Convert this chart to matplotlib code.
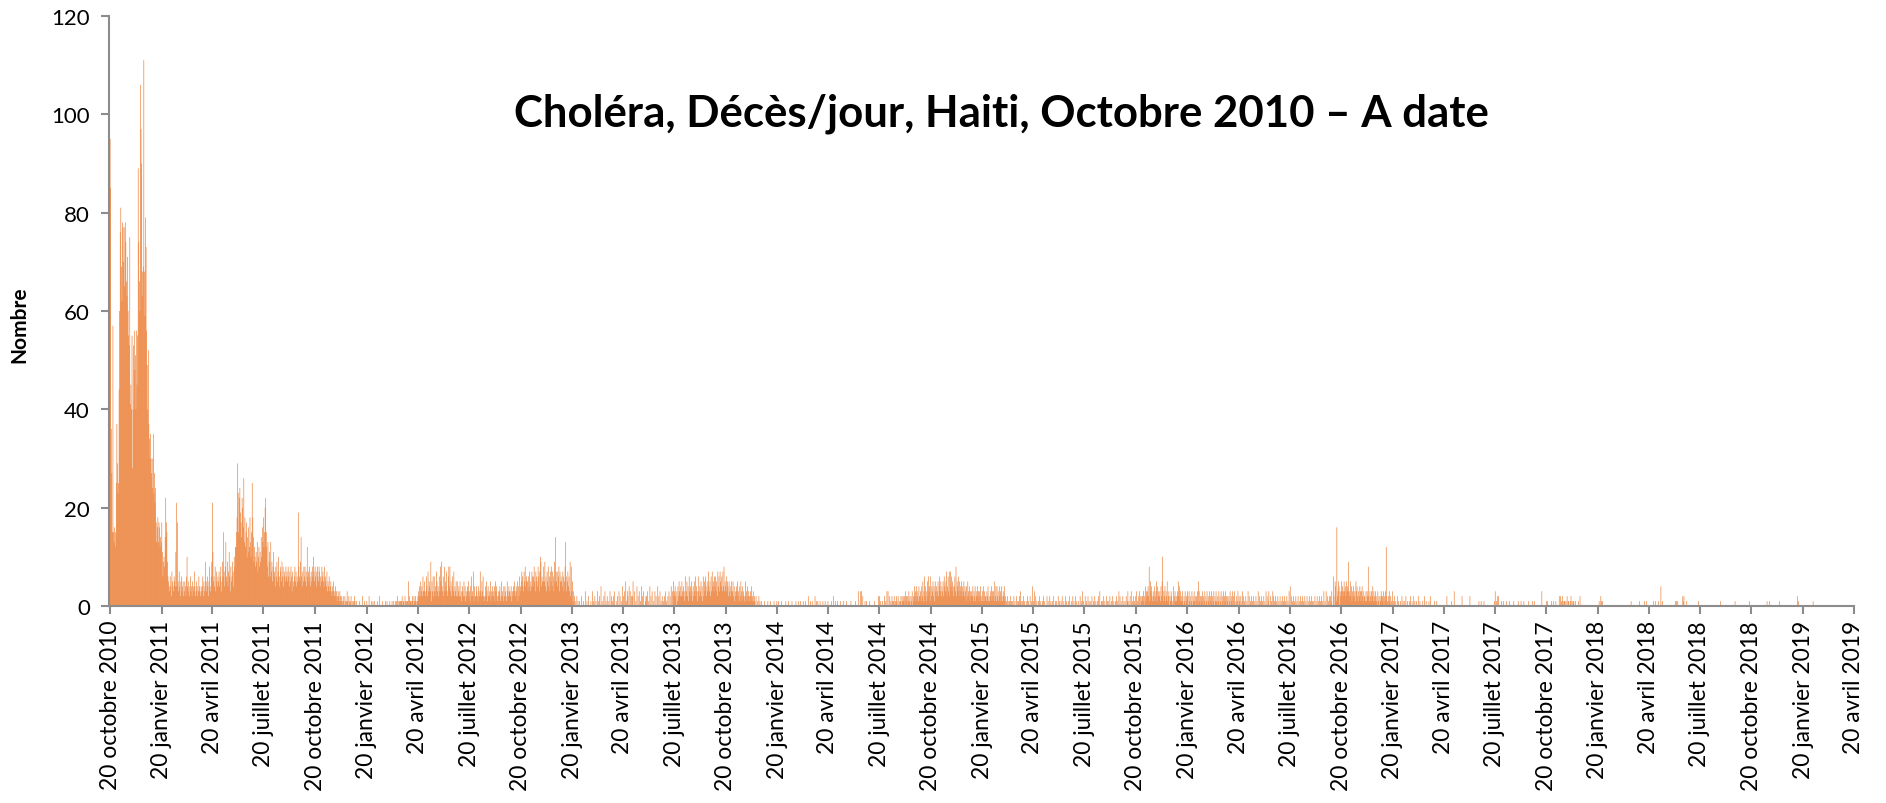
import calendar
import datetime as dt
import matplotlib
matplotlib.use("Agg")
import matplotlib.pyplot as plt
from matplotlib.dates import date2num

# ---------------- data: daily deaths ----------------
# 2010 / 2011 : lists per month ; later years : one base-36 digit per day, one string per month
deaths_2010 = [  # from 20 October
    [95, 85, 36, 27, 15, 57, 15, 13, 16, 12, 15, 25],
    [37, 29, 23, 25, 44, 60, 76, 81, 69, 62, 78, 77, 70, 77, 65, 78, 74, 66, 63, 71,
     60, 55, 53, 75, 41, 45, 40, 55, 28, 40],
    [53, 56, 48, 51, 40, 56, 45, 55, 89, 74, 66, 60, 106, 97, 90, 63, 68, 69, 111, 68,
     59, 79, 73, 56, 49, 40, 52, 37, 34, 30, 35],
]
deaths_2011 = [
    [30, 27, 24, 30, 35, 23, 27, 21, 24, 17, 13, 16, 18, 13, 17, 16, 12, 14, 13, 17,
     11, 6, 9, 10, 8, 14, 22, 17, 15, 9, 6],
    [5, 4, 3, 6, 4, 2, 7, 5, 4, 3, 6, 5, 4, 11, 21, 4, 17, 5, 3, 7, 4, 2, 5, 6, 3, 4, 5, 2],
    [3, 5, 4, 2, 6, 10, 4, 3, 5, 2, 4, 6, 3, 4, 2, 5, 4, 3, 7, 4, 2, 3, 5, 4, 2, 3, 6, 4, 3, 2, 4],
    [3, 4, 6, 2, 5, 3, 4, 9, 5, 3, 6, 4, 2, 5, 8, 4, 3, 6, 9, 21, 11, 5, 6, 4, 8, 3, 7, 5, 4, 6],
    [5, 7, 4, 6, 8, 3, 5, 9, 6, 15, 7, 4, 8, 13, 6, 5, 9, 4, 7, 11, 6, 3, 8, 5, 6, 9, 7, 4, 10, 8, 12],
    [12, 15, 18, 29, 23, 15, 22, 24, 19, 17, 14, 22, 20, 16, 26, 13, 18, 12, 15, 17,
     10, 14, 16, 11, 12, 18, 13, 10, 15, 25],
    [18, 14, 9, 12, 10, 8, 11, 9, 13, 7, 10, 12, 8, 11, 9, 14, 10, 16, 13, 18, 12, 15,
     20, 22, 15, 12, 8, 13, 6, 9, 11],
    [6, 13, 7, 9, 5, 8, 11, 6, 7, 4, 8, 6, 9, 5, 7, 10, 6, 4, 8, 7, 5, 9, 6, 8, 4, 7, 6, 5, 8, 6, 7],
    [5, 8, 6, 4, 7, 5, 8, 6, 3, 7, 5, 4, 6, 8, 5, 7, 4, 6, 5, 19, 8, 6, 5, 9, 14, 6, 4, 7, 5, 8],
    [6, 8, 5, 7, 4, 12, 6, 7, 5, 8, 6, 4, 7, 5, 8, 6, 10, 7, 5, 8, 6, 4, 7, 8, 6, 5, 8, 7, 4, 6, 5],
    [8, 6, 7, 5, 4, 8, 6, 5, 4, 7, 3, 5, 4, 6, 3, 4, 5, 3, 2, 4, 3, 5, 2, 3, 4, 2, 3, 1, 2, 3],
    [2, 1, 3, 2, 1, 2, 0, 1, 2, 1, 0, 2, 1, 0, 1, 3, 1, 0, 2, 1, 0, 1, 2, 0, 1, 0, 1, 0, 2, 1, 0],
]
deaths_2012 = [
    "0100001000" "0200010001" "0002000100" "1",
    "0010000100" "0200001000" "010010000",
    "1000100100" "1010201101" "1120110210" "1",
    "1150211012" "1021120112" "3242534263",
    "3523642735" "4391536263" "4275342638" "5",
    "9436283547" "3268483524" "6372435252",
    "3425231432" "5241324352" "3146232714" "2",
    "2432143273" "2536212425" "3142325132" "4",
    "3241534213" "2341252314" "2432153243",
    "3241324353" "2435142634" "5764375846" "5",
    "5364735476" "4685376548" "637a946558",
    "5946375846" "3758476395" "e757468375" "6",
]
deaths_2013 = [
    "5476358d63" "5746392835" "1302100201" "0",
    "0100200010" "0300100200" "01003010",
    "2010030120" "0401002030" "1020010300" "2",
    "1020300102" "0030200140" "2030510320",
    "4030202500" "3010402030" "1040203001" "2",
    "2030104020" "3001030200" "4020301020",
    "1020301020" "3020403052" "3420314253" "2",
    "4253243162" "3524163425" "3142536243" "1",
    "3624352416" "2536425374" "3526374536",
    "4635274637" "5463748354" "6354253425" "3",
    "3524132435" "2314253142" "3125231423",
    "2132412312" "1020010201" "0010000100" "0",
]
deaths_2014 = [
    "0010000100" "0001000010" "0100001000" "0",
    "0001000010" "0000100000" "01000010",
    "0100001000" "1000020001" "0010000200" "1",
    "0100010000" "1000100001" "0000010002",
    "0010001000" "0100000100" "0010000000" "1",
    "0000000100" "0030003030" "2000100100",
    "0010000000" "0100000020" "2010010002" "0",
    "1030300201" "0210120102" "1020101202" "1",
    "2120312021" "3120213021" "4231423142",
    "2314251362" "4135263416" "2435241534" "2",
    "3524635243" "5264357246" "3727463542",
    "4638254635" "2435243524" "3142532413" "2",
]
deaths_2015 = [
    "3241324132" "4231324123" "1413221324" "1",
    "2132413231" "5241423142" "31421324",
    "1201020110" "2010102010" "0201102031" "0",
    "1020100102" "0100201040" "1030201001",
    "0201001020" "1000201002" "0100102001" "0",
    "1002010010" "2001002010" "0102000102",
    "0100201001" "0020103010" "0201002010" "0",
    "1020010201" "0010203001" "0102010020" "1",
    "0102001020" "1001020103" "0201002010",
    "1020130102" "0301020102" "3010203021" "2",
    "2130241323" "4281534213" "2412351423",
    "231425a132" "4132512302" "1320140231" "2",
]
deaths_2016 = [
    "1325241321" "3102130213" "2031201302" "1",
    "3120213053" "1202130213" "021302130",
    "2130213021" "3102130213" "0213021302" "1",
    "2021302130" "2031020130" "2102013020",
    "1020103020" "1020102010" "2010302010" "2",
    "0102010302" "0130020103" "2010201020",
    "1020102010" "2010201030" "4020102010" "2",
    "0102010201" "0201020102" "0102010201" "0",
    "1020102010" "2010201030" "1030201020",
    "2130062054" "1g23540325" "3423534253" "4",
    "3923524132" "4231534213" "2431342132",
    "2131328213" "2132413213" "2103120213" "2",
]
deaths_2017 = [
    "2130213c21" "0213021030" "1020100201" "0",
    "0100201001" "0200100102" "00100201",
    "0010020010" "0001002001" "0000100200" "0",
    "0001000100" "0000000000" "0000020000",
    "0001000030" "0000000000" "0020000000" "0",
    "0000020000" "0000000000" "0100010000",
    "1000000000" "0000000001" "3010202000" "0",
    "1000100001" "0000100000" "0010000000" "1",
    "0000100001" "0000000100" "0000100010",
    "0000000000" "0300000001" "0100000010" "0",
    "0100010000" "0202010210" "1101020110",
    "0120101100" "1000010020" "0000000000" "0",
]
deaths_2018 = [
    "0000000000" "0000000000" "0100210100" "0",
    "0000000000" "0000000000" "00000000",
    "0000000000" "0000000001" "0000000000" "0",
    "0001000000" "0010010000" "0000000010",
    "0100000100" "0400100000" "0000000000" "0",
    "0000001010" "1000000002" "1200001000",
    "0000000000" "0000000100" "0000000000" "0",
    "0000000000" "0000000000" "0000010000" "0",
    "0000000000" "0000000000" "1000000000",
    "0000000000" "0000001000" "0000000000" "0",
    "0000000000" "0000001000" "1000000000",
    "0000000010" "0000000000" "0000000000" "0",
]
deaths_2019 = [
    "0000000002" "0100000000" "0000000000" "0",
    "0000001000" "0000000000" "00000000",
]

y_ticks = [0, 20, 40, 60, 80, 100, 120]
tick_month_names = {1: "janvier", 4: "avril", 7: "juillet", 10: "octobre"}
tick_start = (2010, 10)
tick_end = (2019, 4)
title = "Choléra, Décès/jour, Haiti, Octobre 2010 – A date"
y_label = "Nombre"

# ---------------- build daily series ----------------
dates, values = [], []


def add_year(year, months, start_month=1, first_day=1):
    for mi, m in enumerate(months):
        month = start_month + mi
        ndays = calendar.monthrange(year, month)[1]
        vals = [int(c, 36) for c in m] if isinstance(m, str) else list(m)
        start = first_day if mi == 0 else 1
        for i, v in enumerate(vals):
            day = start + i
            if day > ndays:
                break
            dates.append(dt.date(year, month, day))
            values.append(v)


add_year(2010, deaths_2010, start_month=10, first_day=20)
for yr, arr in [(2011, deaths_2011), (2012, deaths_2012), (2013, deaths_2013),
                (2014, deaths_2014), (2015, deaths_2015), (2016, deaths_2016),
                (2017, deaths_2017), (2018, deaths_2018), (2019, deaths_2019)]:
    add_year(yr, arr)

# ticks every 3 months on the 20th
tick_dates, tick_labels = [], []
y, m = tick_start
while (y, m) <= tick_end:
    tick_dates.append(dt.date(y, m, 20))
    tick_labels.append(f"20 {tick_month_names[m]} {y}")
    m += 3
    if m > 12:
        m -= 12
        y += 1

# ---------------- plot ----------------
plt.rcParams["font.family"] = ["Lato", "DejaVu Sans"]
fig = plt.figure(figsize=(18.86, 8.04), dpi=100)
ax = fig.add_axes([0.058, 0.245, 0.9248, 0.734])

bars = ax.bar(date2num(dates), values, width=1.1, color="#EB782B",
              linewidth=0, antialiased=True)
for b in bars:
    b.set_snap(False)

ax.set_xlim(date2num(tick_dates[0]) - 1.3, date2num(tick_dates[-1]))
ax.set_ylim(0, 120)
ax.set_yticks(y_ticks)
ax.set_yticklabels([str(t) for t in y_ticks], fontsize=16)
ax.set_xticks(date2num(tick_dates))
ax.set_xticklabels(tick_labels, rotation=90, fontsize=16.5)

for s in ["top", "right"]:
    ax.spines[s].set_visible(False)
for s in ["left", "bottom"]:
    ax.spines[s].set_color("#8c8c8c")
    ax.spines[s].set_linewidth(1.5)
ax.tick_params(axis="both", colors="#8c8c8c", length=6, width=1.5, labelcolor="black")
ax.tick_params(axis="y", pad=8)
ax.tick_params(axis="x", pad=4)

fig.text(0.0105, 0.596, y_label, fontsize=15, fontweight="bold", rotation=90,
         ha="center", va="center")
fig.text(0.531, 0.858, title, fontsize=31.5, fontweight="bold", ha="center", va="center")

fig.savefig("out.png", dpi=100)
